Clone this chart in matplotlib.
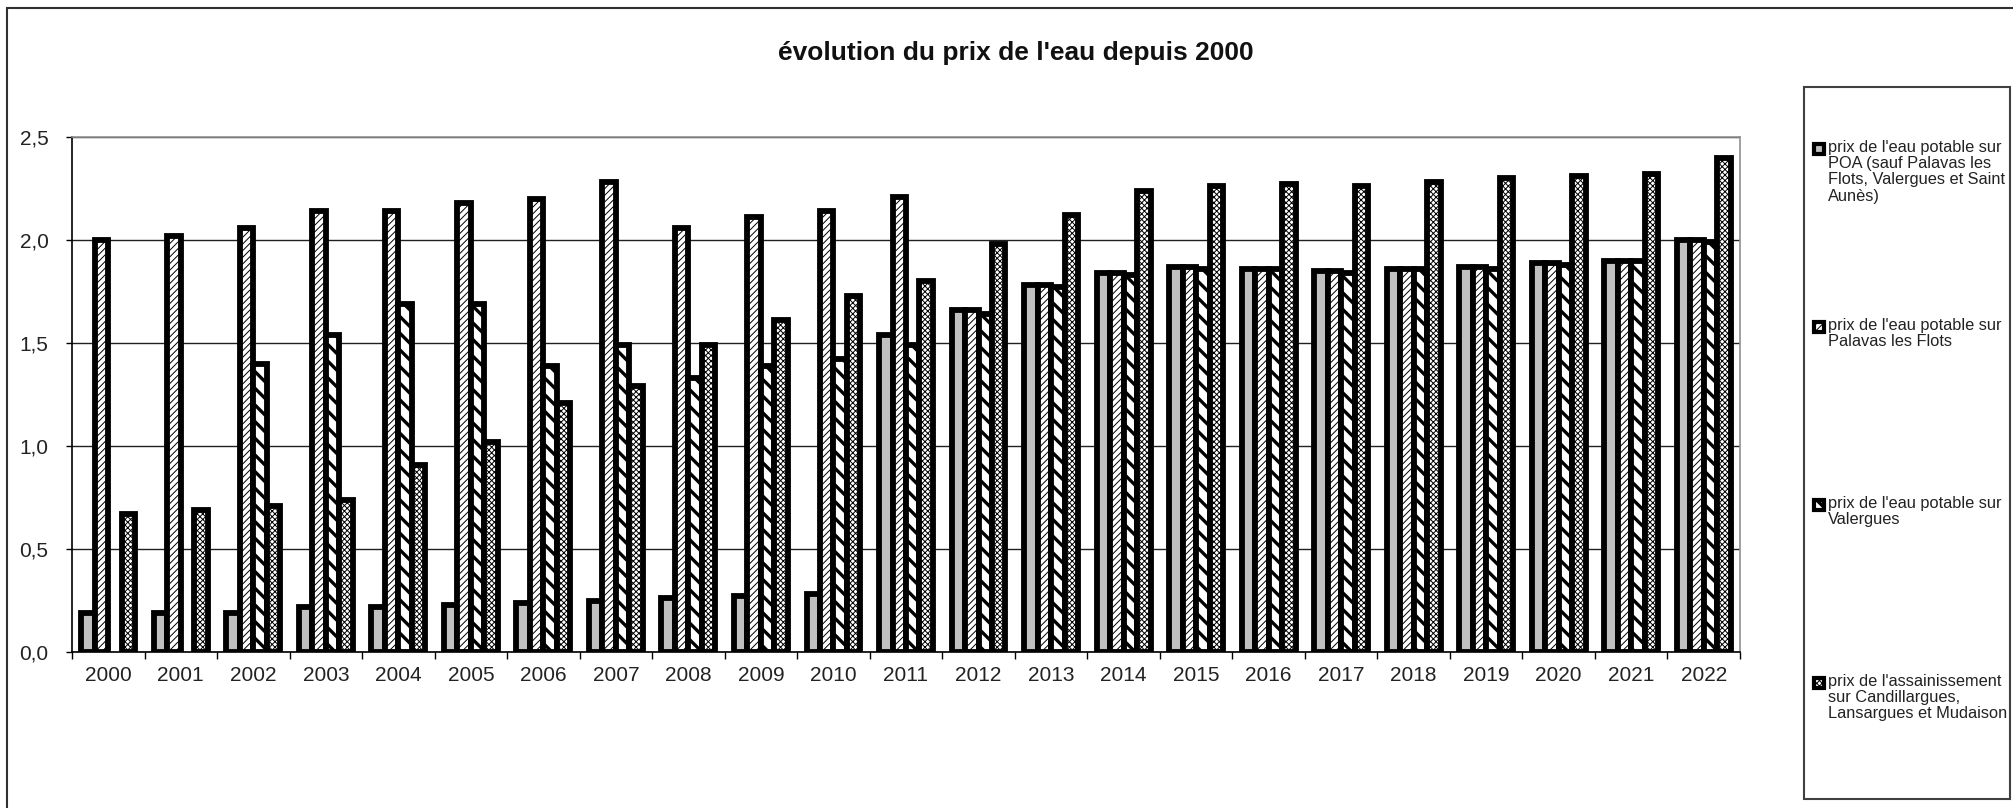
import numpy as np
import matplotlib
matplotlib.use("Agg")
import matplotlib.pyplot as plt
from matplotlib.patches import Rectangle

plt.rcParams['font.family'] = ['Liberation Sans', 'DejaVu Sans']

years = [str(y) for y in range(2000, 2023)]

# prix (euros / m3)
poa = [0.19, 0.19, 0.19, 0.22, 0.22, 0.23, 0.24, 0.25, 0.26, 0.27, 0.28, 1.54,
       1.66, 1.78, 1.84, 1.87, 1.86, 1.85, 1.86, 1.87, 1.89, 1.90, 2.00]
palavas = [2.00, 2.02, 2.06, 2.14, 2.14, 2.18, 2.20, 2.28, 2.06, 2.11, 2.14, 2.21,
           1.66, 1.78, 1.84, 1.87, 1.86, 1.85, 1.86, 1.87, 1.89, 1.90, 2.00]
valergues = [np.nan, np.nan, 1.40, 1.54, 1.69, 1.69, 1.39, 1.49, 1.33, 1.39, 1.42, 1.49,
             1.64, 1.77, 1.83, 1.86, 1.86, 1.84, 1.86, 1.86, 1.88, 1.90, 1.99]
assain = [0.67, 0.69, 0.71, 0.74, 0.91, 1.02, 1.21, 1.29, 1.49, 1.61, 1.73, 1.80,
          1.98, 2.12, 2.24, 2.26, 2.27, 2.26, 2.28, 2.30, 2.31, 2.32, 2.40]

labels = [
    "prix de l'eau potable sur\nPOA (sauf Palavas les\nFlots, Valergues et Saint\nAunès)",
    "prix de l'eau potable sur\nPalavas les Flots",
    "prix de l'eau potable sur\nValergues",
    "prix de l'assainissement\nsur Candillargues,\nLansargues et Mudaison",
]
yticks = [0.0, 0.5, 1.0, 1.5, 2.0, 2.5]
ytick_labels = ["0,0", "0,5", "1,0", "1,5", "2,0", "2,5"]

series = [poa, palavas, valergues, assain]
faces = ["#c0c0c0", "white", "white", "white"]
# matplotlib : 6 lignes par pouce par caractère de hachure
hatches = [None, "/////", "\\\\", "xxxxxx"]
hatch_lw = [1.0, 0.7, 2.4, 0.7]

W, H = 2013, 808
fig = plt.figure(figsize=(W / 100, H / 100), dpi=100)

# cadre extérieur
fig.patches.append(Rectangle((7 / W, -0.1), 1.2, 1.1 - 8 / H, transform=fig.transFigure,
                             fill=False, edgecolor="#303030", lw=1.5))

ax = fig.add_axes([72 / W, 1 - 652 / H, (1740 - 72) / W, (652 - 137) / H])

x = np.arange(len(years))
bw = 0.186
for k, vals in enumerate(series):
    with plt.rc_context({"hatch.linewidth": hatch_lw[k]}):
        bars = ax.bar(x + (k - 1.5) * bw, vals, bw, color=faces[k], edgecolor="black",
                      linewidth=4.2, hatch=hatches[k], zorder=3)
    for p in bars:
        if hasattr(p, "set_hatch_linewidth"):
            p.set_hatch_linewidth(hatch_lw[k])

ax.set_xlim(-0.5, len(years) - 0.5)
ax.set_ylim(0, 2.5)
ax.set_yticks(yticks)
ax.set_yticklabels(ytick_labels)
ax.set_xticks(np.arange(-0.5, len(years)), [""] * (len(years) + 1))
ax.set_xticks(x, years, minor=True)
ax.tick_params(axis="x", which="major", length=5, width=1, direction="out")
ax.tick_params(axis="x", which="minor", length=0, pad=10, labelsize=15, colors="#222222")
ax.tick_params(axis="y", length=4, width=1, direction="out", pad=13, labelsize=15,
               labelcolor="#222222")
ax.yaxis.grid(True, color="#202020", lw=1.0)
ax.set_axisbelow(True)
for s in ["top", "right"]:
    ax.spines[s].set_color("#909090")
    ax.spines[s].set_linewidth(1.2)
for s in ["left", "bottom"]:
    ax.spines[s].set_color("black")
    ax.spines[s].set_linewidth(1.2)

fig.text(1016 / W, 1 - 60 / H, "évolution du prix de l'eau depuis 2000", ha="center",
         va="baseline", fontsize=19, fontweight="bold", color="#111111")

# légende
fig.patches.append(Rectangle((1804 / W, 1 - 799 / H), (2010 - 1804) / W, (799 - 87) / H,
                             transform=fig.transFigure, fill=False, edgecolor="#404040", lw=1.5))
entry_y = [149, 327, 505, 683]
for k, lab in enumerate(labels):
    yc = entry_y[k]
    with plt.rc_context({"hatch.linewidth": hatch_lw[k]}):
        key = Rectangle((1814 / W, 1 - (yc + 5) / H), 10 / W, 10 / H, transform=fig.transFigure,
                        facecolor=faces[k], edgecolor="black", lw=3, hatch=hatches[k])
    fig.patches.append(key)
    fig.text(1828 / W, 1 - (yc - 9) / H, lab, ha="left", va="top", fontsize=11.8,
             linespacing=1.1, color="#222222")

fig.savefig("out.png", dpi=100)
